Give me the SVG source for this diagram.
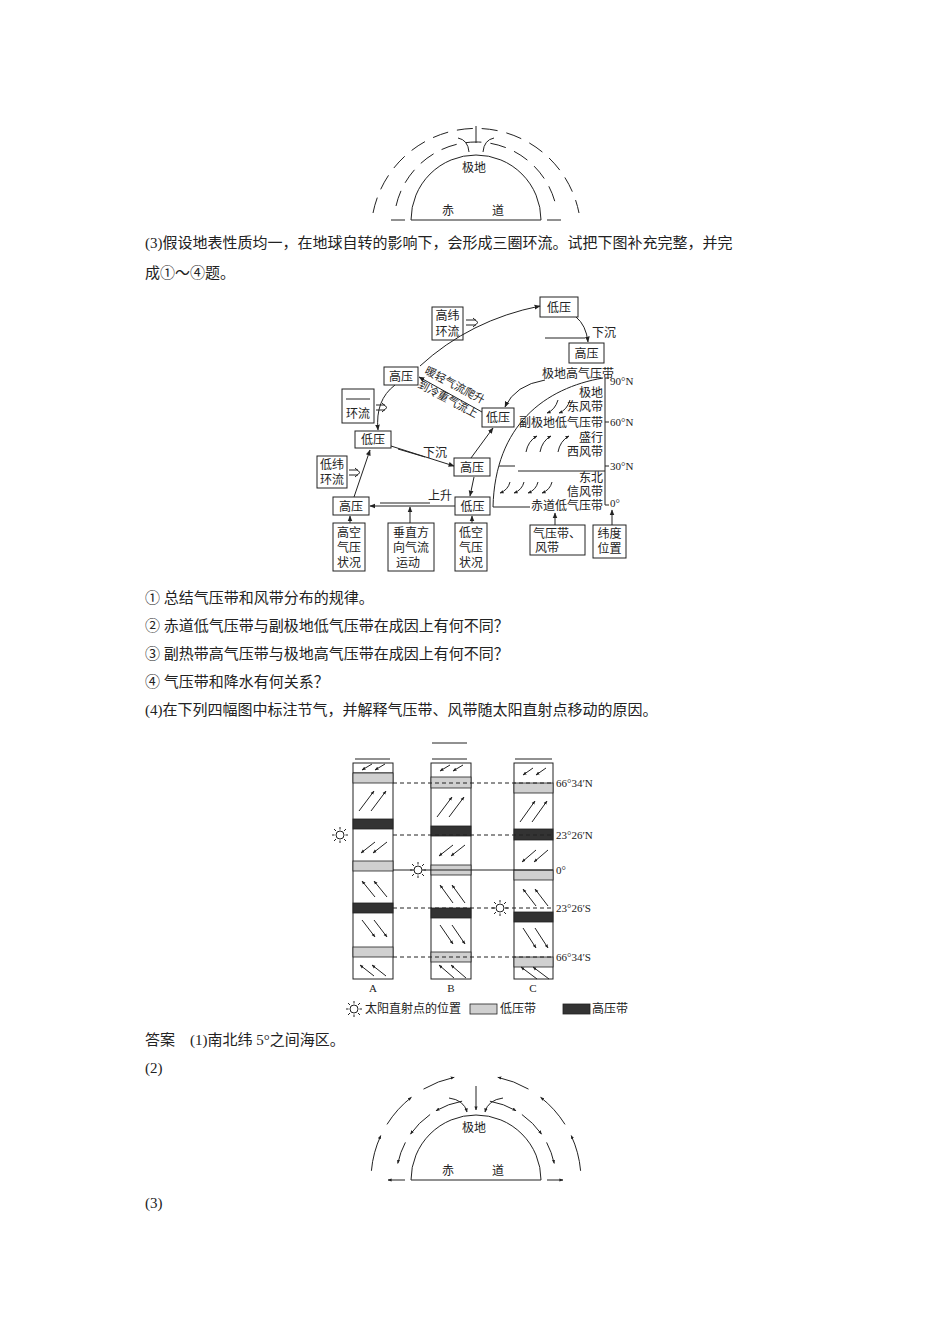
<svg xmlns="http://www.w3.org/2000/svg" width="950" height="1344" viewBox="0 0 950 1344">
<defs>
<marker id="ah" viewBox="0 0 10 10" refX="9" refY="5" markerWidth="6" markerHeight="6" orient="auto"><path d="M0,1 L10,5 L0,9 z" fill="#222"/></marker>
<marker id="as" viewBox="0 0 10 10" refX="9" refY="5" markerWidth="4" markerHeight="4" orient="auto"><path d="M0,1 L10,5 L0,9 z" fill="#222"/></marker>
<g id="sun"><circle r="4" fill="#fff" stroke="#222"/><g stroke="#222" stroke-width="1"><line x1="0" y1="-5.5" x2="0" y2="-8"/><line x1="0" y1="5.5" x2="0" y2="8"/><line x1="-5.5" y1="0" x2="-8" y2="0"/><line x1="5.5" y1="0" x2="8" y2="0"/><line x1="4" y1="4" x2="6" y2="6"/><line x1="-4" y1="4" x2="-6" y2="6"/><line x1="4" y1="-4" x2="6" y2="-6"/><line x1="-4" y1="-4" x2="-6" y2="-6"/></g></g>
</defs>
<style>
text{font-family:"Liberation Serif","Noto Sans CJK SC",serif;fill:#222}
.p{font-size:15px}
.s{font-size:12px}
.t{font-size:11px}
.b{fill:#fff;stroke:#222;stroke-width:1}
.l{fill:none;stroke:#222;stroke-width:1}
.lb{fill:#d0d0d0;stroke:#222;stroke-width:.8}
.db{fill:#333;stroke:#222;stroke-width:.8}
.d{stroke:#222;stroke-width:1;stroke-dasharray:4 3}
</style>
<rect width="950" height="1344" fill="#fff"/>

<g id="top-semicircle">
<path class="l" d="M411,220 A65,65 0 0 1 541,220 Z"/>
<line class="l" x1="391" y1="220" x2="405" y2="220"/><line class="l" x1="547" y1="220" x2="561" y2="220"/>
<line class="l" x1="476" y1="126" x2="476" y2="143"/>
<path class="l" d="M458,138 Q468,140 469,152"/><path class="l" d="M494,138 Q484,140 483,152"/>
<g class="l" stroke-dasharray="16 9"><path d="M396,206 A82,82 0 0 1 556,206"/><path d="M373,213 A105,105 0 0 1 579,213"/></g>
<text class="s" x="474" y="172" text-anchor="middle">极地</text>
<text class="s" x="442" y="215">赤</text><text class="s" x="492" y="215">道</text>
</g>

<text class="p" x="145" y="248">(3)假设地表性质均一，在地球自转的影响下，会形成三圈环流。试把下图补充完整，并完</text>
<text class="p" x="145" y="278">成①～④题。</text>

<g id="nodes" class="s">
<g id="n1"><rect class="b" x="540" y="297" width="38" height="20"/><text x="559" y="312" text-anchor="middle">低压</text></g>
<g id="n2"><rect class="b" x="432" y="307" width="31" height="33"/><text x="447.5" y="320" text-anchor="middle">高纬</text><text x="447.5" y="336" text-anchor="middle">环流</text></g>
<g id="n3"><rect class="b" x="569" y="343" width="35" height="20"/><text x="586.5" y="358" text-anchor="middle">高压</text></g>
<g id="n4"><rect class="b" x="384" y="367" width="34" height="18"/><text x="401" y="381" text-anchor="middle">高压</text></g>
<g id="n5"><rect class="b" x="342" y="389" width="32" height="34"/><line class="l" x1="346" y1="399" x2="370" y2="399"/><text x="358" y="418" text-anchor="middle">环流</text></g>
<g id="n6"><rect class="b" x="355" y="431" width="36" height="17"/><text x="373" y="444" text-anchor="middle">低压</text></g>
<g id="n7"><rect class="b" x="482" y="408" width="32" height="19"/><text x="498" y="422" text-anchor="middle">低压</text></g>
<g id="n8"><rect class="b" x="454" y="458" width="36" height="18"/><text x="472" y="472" text-anchor="middle">高压</text></g>
<g id="n9"><rect class="b" x="317" y="456" width="30" height="32"/><text x="332" y="469" text-anchor="middle">低纬</text><text x="332" y="484" text-anchor="middle">环流</text></g>
<g id="n10"><rect class="b" x="333" y="497" width="36" height="18"/><text x="351" y="511" text-anchor="middle">高压</text></g>
<g id="n11"><rect class="b" x="455" y="497" width="35" height="18"/><text x="472.5" y="511" text-anchor="middle">低压</text></g>
<g id="n12"><rect class="b" x="333" y="523" width="32" height="48"/><text x="349" y="537" text-anchor="middle">高空</text><text x="349" y="552" text-anchor="middle">气压</text><text x="349" y="567" text-anchor="middle">状况</text></g>
<g id="n13"><rect class="b" x="388" y="523" width="46" height="48"/><text x="411" y="537" text-anchor="middle">垂直方</text><text x="411" y="552" text-anchor="middle">向气流</text><text x="408" y="567" text-anchor="middle">运动</text></g>
<g id="n14"><rect class="b" x="455" y="523" width="32" height="48"/><text x="471" y="537" text-anchor="middle">低空</text><text x="471" y="552" text-anchor="middle">气压</text><text x="471" y="567" text-anchor="middle">状况</text></g>
<g id="n15"><rect class="b" x="530" y="525" width="55" height="30"/><text x="557" y="538" text-anchor="middle">气压带、</text><text x="547" y="552" text-anchor="middle">风带</text></g>
<g id="n16"><rect class="b" x="593" y="525" width="33" height="33"/><text x="609.5" y="538" text-anchor="middle">纬度</text><text x="609.5" y="553" text-anchor="middle">位置</text></g>
</g>

<g id="chart" class="s">
<path class="l" d="M603,378 C545,388 495,425 493,507 L530,507"/>
<line class="l" x1="605" y1="378" x2="605" y2="505"/>
<g class="l"><line x1="605" y1="422" x2="609" y2="422"/><line x1="605" y1="466" x2="609" y2="466"/><line x1="605" y1="378" x2="609" y2="378"/><line x1="605" y1="505" x2="609" y2="505"/></g>
<line class="l" x1="518" y1="471" x2="605" y2="471"/><line class="l" x1="499" y1="466" x2="515" y2="466"/>
<text class="t" x="610" y="385">90°N</text><text class="t" x="610" y="426">60°N</text><text class="t" x="610" y="470">30°N</text><text class="t" x="610" y="507">0°</text>
<text x="578" y="378" text-anchor="middle">极地高气压带</text>
<text x="603" y="397" text-anchor="end">极地</text><text x="603" y="411" text-anchor="end">东风带</text>
<text x="603" y="427" text-anchor="end">副极地低气压带</text>
<text x="603" y="442" text-anchor="end">盛行</text><text x="603" y="456" text-anchor="end">西风带</text>
<text x="603" y="482" text-anchor="end">东北</text><text x="603" y="496" text-anchor="end">信风带</text>
<text x="603" y="510" text-anchor="end">赤道低气压带</text>
<g class="l" marker-end="url(#as)"><path d="M558,400 Q555,410 547,413"/><path d="M570,400 Q567,410 559,413"/><path d="M526,452 Q528,441 537,436"/><path d="M540,452 Q542,441 551,436"/><path d="M558,452 Q560,441 569,436"/><path d="M510,482 Q508,490 500,493"/><path d="M524,482 Q522,490 514,493"/><path d="M538,482 Q536,490 528,493"/><path d="M552,482 Q550,490 542,493"/></g>
</g>

<g id="connectors">
<g class="l" marker-end="url(#ah)">
<path d="M420,366 Q470,320 540,306"/>
<path d="M576,317 Q586,325 588,342"/>
<path d="M545,380 Q515,385 505,407"/>
<line x1="482" y1="412" x2="419" y2="377"/>
<path d="M395,385 Q375,400 378,430"/>
<line x1="391" y1="446" x2="454" y2="466"/>
<line x1="471" y1="458" x2="493" y2="428"/>
<line x1="474" y1="477" x2="470" y2="496"/>
<line x1="455" y1="506" x2="370" y2="506"/>
<line x1="354" y1="497" x2="370" y2="450"/>
<line x1="350" y1="523" x2="350" y2="516"/>
<line x1="410" y1="523" x2="410" y2="507"/>
<line x1="472" y1="523" x2="472" y2="516"/>
<line x1="555" y1="525" x2="555" y2="513"/>
<line x1="612" y1="525" x2="612" y2="510"/>
</g>
<line class="l" x1="545" y1="338" x2="585" y2="338"/>
<line class="l" x1="380" y1="503" x2="430" y2="503"/>
<line class="l" x1="398" y1="449" x2="425" y2="457"/>
<g class="l"><path d="M466,320 H476 M466,325 H476 M473,318 L478,322.5 L473,327"/><path d="M376,405 H385 M376,410 H385 M382,403 L387,407.5 L382,412"/><path d="M349,470 H358 M349,475 H358 M355,468 L360,472.5 L355,477"/></g>
<text class="s" x="592" y="337">下沉</text>
<text class="s" x="423" y="457">下沉</text>
<text class="s" x="428" y="500">上升</text>
<text style="font-size:11px" transform="translate(424,373) rotate(28)">暖轻气流爬升</text>
<text style="font-size:11px" transform="translate(417,387) rotate(28)">到冷重气流上</text>
</g>

<g class="p">
<text x="145" y="603">① 总结气压带和风带分布的规律。</text>
<text x="145" y="631">② 赤道低气压带与副极地低气压带在成因上有何不同？</text>
<text x="145" y="659">③ 副热带高气压带与极地高气压带在成因上有何不同？</text>
<text x="145" y="687">④ 气压带和降水有何关系？</text>
<text x="145" y="715">(4)在下列四幅图中标注节气，并解释气压带、风带随太阳直射点移动的原因。</text>
</g>

<g id="bands">
<g class="l"><line x1="355" y1="759" x2="390" y2="759"/><line x1="432" y1="759" x2="467" y2="759"/><line x1="432" y1="743" x2="467" y2="743"/><line x1="515" y1="759" x2="552" y2="759"/></g>
<g id="colA"><rect class="b" x="353" y="763" width="40" height="216"/><line class="l" x1="353" y1="773" x2="393" y2="773"/>
<rect class="lb" x="353" y="773" width="40" height="10"/><rect class="db" x="353" y="819" width="40" height="10"/><rect class="lb" x="353" y="861" width="40" height="10"/><rect class="db" x="353" y="903" width="40" height="10"/><rect class="lb" x="353" y="947" width="40" height="10"/></g>
<g id="colB"><rect class="b" x="431" y="763" width="40" height="216"/>
<rect class="lb" x="431" y="777" width="40" height="11"/><rect class="db" x="431" y="826" width="40" height="10"/><rect class="lb" x="431" y="865" width="40" height="10"/><rect class="db" x="431" y="908" width="40" height="10"/><rect class="lb" x="431" y="952" width="40" height="10"/></g>
<g id="colC"><rect class="b" x="514" y="763" width="39" height="216"/>
<rect class="lb" x="514" y="783" width="39" height="10"/><rect class="db" x="514" y="829" width="39" height="11"/><rect class="lb" x="514" y="870" width="39" height="10"/><rect class="db" x="514" y="912" width="39" height="10"/><rect class="lb" x="514" y="957" width="39" height="10"/></g>
<g class="d"><line x1="393" y1="783" x2="553" y2="783"/><line x1="393" y1="835" x2="553" y2="835"/><line x1="393" y1="908" x2="553" y2="908"/><line x1="393" y1="957" x2="553" y2="957"/></g>
<line class="l" x1="393" y1="870" x2="553" y2="870"/>
<g class="l" marker-end="url(#as)">
<line x1="372" y1="764" x2="362" y2="770"/><line x1="385" y1="764" x2="375" y2="770"/>
<line x1="359" y1="811" x2="374" y2="791"/><line x1="371" y1="811" x2="386" y2="791"/>
<line x1="375" y1="842" x2="361" y2="853"/><line x1="387" y1="842" x2="373" y2="853"/>
<line x1="375" y1="897" x2="362" y2="881"/><line x1="387" y1="897" x2="374" y2="881"/>
<line x1="362" y1="920" x2="375" y2="937"/><line x1="374" y1="920" x2="387" y2="937"/>
<line x1="374" y1="976" x2="360" y2="965"/><line x1="386" y1="976" x2="372" y2="965"/>
<line x1="450" y1="765" x2="440" y2="771"/><line x1="463" y1="765" x2="453" y2="771"/>
<line x1="437" y1="817" x2="452" y2="797"/><line x1="449" y1="817" x2="464" y2="797"/>
<line x1="453" y1="845" x2="439" y2="856"/><line x1="465" y1="845" x2="451" y2="856"/>
<line x1="453" y1="903" x2="440" y2="885"/><line x1="465" y1="903" x2="452" y2="885"/>
<line x1="440" y1="925" x2="453" y2="944"/><line x1="452" y1="925" x2="465" y2="944"/>
<line x1="454" y1="978" x2="439" y2="965"/><line x1="466" y1="978" x2="451" y2="965"/>
<line x1="533" y1="768" x2="523" y2="775"/><line x1="546" y1="768" x2="536" y2="775"/>
<line x1="520" y1="822" x2="535" y2="801"/><line x1="532" y1="822" x2="547" y2="801"/>
<line x1="536" y1="850" x2="522" y2="862"/><line x1="548" y1="850" x2="534" y2="862"/>
<line x1="536" y1="906" x2="523" y2="889"/><line x1="548" y1="906" x2="535" y2="889"/>
<line x1="523" y1="928" x2="536" y2="948"/><line x1="535" y1="928" x2="548" y2="948"/>
<line x1="537" y1="979" x2="521" y2="967"/><line x1="549" y1="979" x2="533" y2="967"/>
</g>
<use href="#sun" x="340" y="835"/><use href="#sun" x="418" y="870"/><use href="#sun" x="500" y="908"/>
<g class="t"><text x="556" y="787">66°34′N</text><text x="556" y="839">23°26′N</text><text x="556" y="874">0°</text><text x="556" y="912">23°26′S</text><text x="556" y="961">66°34′S</text>
<text x="373" y="992" text-anchor="middle">A</text><text x="451" y="992" text-anchor="middle">B</text><text x="533" y="992" text-anchor="middle">C</text></g>
<use href="#sun" x="354" y="1009"/>
<text class="s" x="365" y="1013">太阳直射点的位置</text>
<rect class="lb" x="470" y="1004" width="27" height="10"/><text class="s" x="500" y="1013">低压带</text>
<rect class="db" x="563" y="1004" width="27" height="10"/><text class="s" x="592" y="1013">高压带</text>
</g>

<text class="p" x="145" y="1045">答案　(1)南北纬 5°之间海区。</text>
<text class="p" x="145" y="1073">(2)</text>

<g id="bottom-semicircle">
<path class="l" d="M411,1180 A65,65 0 0 1 541,1180 Z"/>
<text class="s" x="474" y="1132" text-anchor="middle">极地</text>
<text class="s" x="442" y="1175">赤</text><text class="s" x="492" y="1175">道</text>
<g class="l" marker-end="url(#as)">
<line x1="405" y1="1180" x2="388" y2="1180"/><line x1="547" y1="1180" x2="563" y2="1180"/>
<line x1="476" y1="1086" x2="476" y2="1110"/>
<path d="M449,1098 Q464,1100 467,1112"/><path d="M503,1098 Q488,1100 485,1112"/>
<path d="M489.9,1101.2 A80,80 0 0 1 516,1110.7"/><path d="M521.9,1114.5 A80,80 0 0 1 541.5,1134.1"/><path d="M546.6,1142.4 A80,80 0 0 1 554.2,1163.4"/>
<path d="M462.1,1101.2 A80,80 0 0 0 436,1110.7"/><path d="M430.1,1114.5 A80,80 0 0 0 410.5,1134.1"/><path d="M405.4,1142.4 A80,80 0 0 0 397.8,1163.4"/>
<path d="M580.6,1170.8 A105,105 0 0 0 571.2,1135.6"/><path d="M565,1124.4 A105,105 0 0 0 540.6,1097.3"/><path d="M528.5,1089.1 A105,105 0 0 0 497.8,1077.3"/>
<path d="M371.4,1170.8 A105,105 0 0 1 380.8,1135.6"/><path d="M387,1124.4 A105,105 0 0 1 411.4,1097.3"/><path d="M423.5,1089.1 A105,105 0 0 1 454.2,1077.3"/>
</g>
</g>
<text class="p" x="145" y="1208">(3)</text>
</svg>
